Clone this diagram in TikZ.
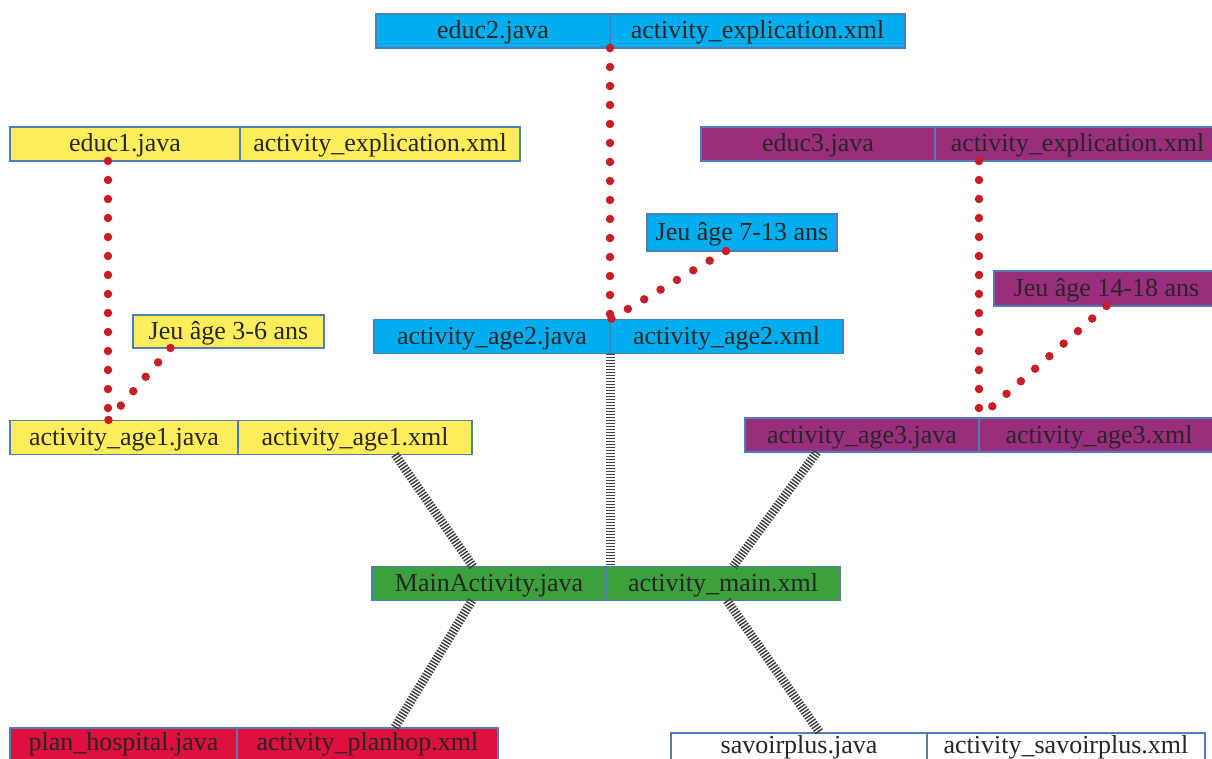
\documentclass[tikz,border=0pt]{standalone}
\usepackage{xcolor}
\usepackage{fontspec}
\setmainfont{Liberation Serif}
\usetikzlibrary{positioning}
\definecolor{boxcyan}{RGB}{0,174,239}
\definecolor{boxyellow}{RGB}{255,238,90}
\definecolor{boxpurple}{RGB}{155,45,125}
\definecolor{boxgreen}{RGB}{60,160,60}
\definecolor{boxred}{RGB}{222,16,62}
\definecolor{boxline}{RGB}{80,125,185}
\definecolor{dotred}{RGB}{200,30,40}

\begin{document}
\begin{tikzpicture}[x=1pt,y=-1pt,
  filebox/.style={draw=boxline, line width=1.2pt, inner sep=0pt, outer sep=0pt,
    minimum height=34pt, text height=20pt, text depth=4pt, text=black!85,
    font=\fontsize{26}{30}\selectfont, anchor=west},
  reddots/.style={draw=dotred, line width=8.5pt, line cap=round, dash pattern=on 0pt off 19pt},
  ladder/.style={draw=black!75, line width=9pt, dash pattern=on 1.5pt off 1.5pt}]
\useasboundingbox (0,0) rectangle (1212,759);

% educ files
\node[filebox, fill=boxcyan, minimum width=234pt] (educ2j) at (376,31) {educ2.java};
\node[filebox, fill=boxcyan, minimum width=295pt, right=0pt of educ2j] (educ2x) {activity\_explication.xml};
\node[filebox, fill=boxyellow, minimum width=230pt] (educ1j) at (10,144) {educ1.java};
\node[filebox, fill=boxyellow, minimum width=280pt, right=0pt of educ1j] (educ1x) {activity\_explication.xml};
\node[filebox, fill=boxpurple, minimum width=234pt] (educ3j) at (701,144) {educ3.java};
\node[filebox, fill=boxpurple, minimum width=285pt, right=0pt of educ3j] (educ3x) {activity\_explication.xml};

% game labels
\node[filebox, fill=boxcyan, minimum width=190pt, minimum height=37pt] (jeu2) at (647,232.5) {Jeu âge 7-13 ans};
\node[filebox, fill=boxyellow, minimum width=191pt, minimum height=33pt] (jeu1) at (133,331.5) {Jeu âge 3-6 ans};
\node[filebox, fill=boxpurple, minimum width=225pt, minimum height=35pt] (jeu3) at (994,288.5) {Jeu âge 14-18 ans};

% age activities
\node[filebox, fill=boxcyan, minimum width=236pt] (age2j) at (374,336.5) {activity\_age2.java};
\node[filebox, fill=boxcyan, minimum width=233pt, right=0pt of age2j] (age2x) {activity\_age2.xml};
\node[filebox, fill=boxyellow, minimum width=228pt] (age1j) at (10,437.5) {activity\_age1.java};
\node[filebox, fill=boxyellow, minimum width=234pt, right=0pt of age1j] (age1x) {activity\_age1.xml};
\node[filebox, fill=boxpurple, minimum width=234pt] (age3j) at (745,435) {activity\_age3.java};
\node[filebox, fill=boxpurple, minimum width=240pt, right=0pt of age3j] (age3x) {activity\_age3.xml};

% main activity
\node[filebox, fill=boxgreen, minimum width=234pt] (mainj) at (372,583.5) {MainActivity.java};
\node[filebox, fill=boxgreen, minimum width=234pt, right=0pt of mainj] (mainx) {activity\_main.xml};

% other activities
\node[filebox, fill=boxred, minimum width=227pt, text height=17pt, text depth=7pt] (planj) at (10,745) {plan\_hospital.java};
\node[filebox, fill=boxred, minimum width=261pt, text height=17pt, text depth=7pt, right=0pt of planj] (planx) {activity\_planhop.xml};
\node[filebox, fill=white, minimum width=256pt, text height=15pt, text depth=9pt] (savj) at (671,750) {savoirplus.java};
\node[filebox, fill=white, minimum width=278pt, text height=15pt, text depth=9pt, right=0pt of savj] (savx) {activity\_savoirplus.xml};

% dotted links
\draw[reddots] ([xshift=-17pt]educ1j.south) -- ([xshift=-16pt]age1j.north);
\draw[reddots] ([xshift=-58pt]jeu1.south) -- ([xshift=-16pt]age1j.north);
\draw[reddots] (educ2j.south east) -- (age2j.north east);
\draw[reddots] ([xshift=-16pt]jeu2.south) -- (age2j.north east);
\draw[reddots] (educ3x.south -| age3x.north west) -- (age3x.north west);
\draw[reddots] (jeu3.south) -- (age3x.north west);

% main links
\draw[ladder] (age2j.south east) -- (age2j.south east |- mainj.north);
\draw[ladder] ([xshift=40pt]age1x.south) -- ([xshift=-16pt]mainj.north);
\draw[ladder] ([xshift=-45pt]age3j.south) -- ([xshift=10pt]mainx.north);
\draw[ladder] ([xshift=-17pt]mainj.south) -- ([xshift=27pt]planx.north);
\draw[ladder] ([xshift=4pt]mainx.south) -- ([xshift=21pt]savj.north);
\end{tikzpicture}
\end{document}
